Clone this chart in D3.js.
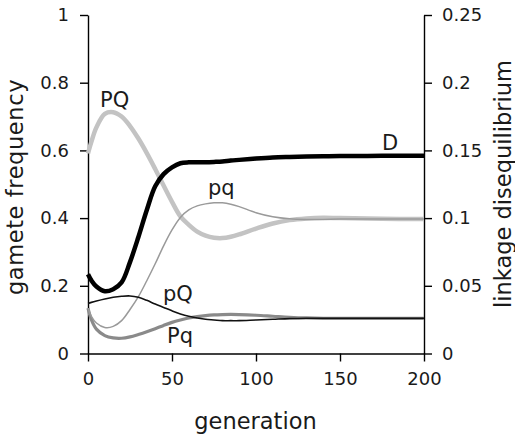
<!DOCTYPE html>
<html>
<head>
<meta charset="utf-8">
<script src="https://cdn.jsdelivr.net/npm/d3@7"></script>
<style>
  html, body { margin: 0; padding: 0; background: #fff; }
  svg { display: block; font-family: "DejaVu Sans", sans-serif; }
</style>
</head>
<body>
<svg id="chart" width="515" height="441"></svg>
<script>
// ---- data ----
const generations = [0,2,5,10,15,20,25,30,35,40,45,50,55,60,65,70,75,80,85,90,100,110,120,130,140,150,175,200];
const freqPQ = [0.591,0.625,0.668,0.708,0.713,0.700,0.672,0.635,0.592,0.545,0.496,0.448,0.405,0.380,0.360,0.348,0.342,0.341,0.345,0.352,0.369,0.384,0.394,0.399,0.401,0.400,0.398,0.397];
const freqpq = [0.134,0.110,0.090,0.077,0.080,0.097,0.130,0.168,0.215,0.265,0.318,0.365,0.402,0.424,0.436,0.442,0.445,0.445,0.441,0.434,0.416,0.404,0.398,0.396,0.396,0.397,0.397,0.397];
const freqpQ = [0.148,0.151,0.155,0.161,0.166,0.169,0.170,0.166,0.157,0.146,0.136,0.126,0.117,0.110,0.105,0.101,0.099,0.097,0.097,0.097,0.099,0.101,0.103,0.104,0.104,0.104,0.104,0.104];
const freqPq = [0.134,0.100,0.072,0.053,0.046,0.045,0.049,0.056,0.064,0.073,0.083,0.092,0.099,0.105,0.109,0.112,0.114,0.115,0.1155,0.115,0.113,0.110,0.107,0.105,0.104,0.104,0.104,0.104];
const linkageD = [0.0585,0.054,0.0495,0.046,0.0475,0.0525,0.0675,0.086,0.106,0.1235,0.1325,0.1375,0.1405,0.1412,0.1413,0.1413,0.1415,0.1418,0.1425,0.143,0.144,0.1448,0.1452,0.1455,0.1457,0.1458,0.146,0.146];

const xTicks = [0,50,100,150,200];
const leftTicks = [0,0.2,0.4,0.6,0.8,1];
const rightTicks = [0,0.05,0.1,0.15,0.2,0.25];

const seriesNames = ["PQ","Pq","pq","pQ","D"];

// ---- layout ----
const svg = d3.select("#chart");
const x = d3.scaleLinear().domain([0,200]).range([88,424]);
const yL = d3.scaleLinear().domain([0,1]).range([353.5,15]);
const yR = d3.scaleLinear().domain([0,0.25]).range([353.5,15]);

const fmt = d3.format("~g");

function styleAxis(g) {
  g.selectAll("path.domain").attr("stroke","#000").attr("stroke-width",1.4);
  g.selectAll(".tick line").attr("stroke","#000").attr("stroke-width",1.4);
  g.selectAll(".tick text").attr("fill","#1a1a1a").attr("font-size",18).attr("font-family","DejaVu Sans, sans-serif");
}

svg.append("g").attr("transform","translate(0,353.5)")
  .call(d3.axisBottom(x).tickValues(xTicks).tickFormat(fmt).tickSize(8).tickSizeOuter(0).tickPadding(11))
  .call(styleAxis);
svg.append("g").attr("transform","translate(88,0)")
  .call(d3.axisLeft(yL).tickValues(leftTicks).tickFormat(fmt).tickSize(8).tickSizeOuter(0).tickPadding(11))
  .call(styleAxis);
svg.append("g").attr("transform","translate(424,0)")
  .call(d3.axisRight(yR).tickValues(rightTicks).tickFormat(fmt).tickSize(8).tickSizeOuter(0).tickPadding(10))
  .call(styleAxis);

// ---- lines ----
const styles = {
  PQ: {data: freqPQ, scale: yL, color: "#c3c3c3", width: 4.5},
  Pq: {data: freqPq, scale: yL, color: "#8a8a8a", width: 3.2},
  pq: {data: freqpq, scale: yL, color: "#9a9a9a", width: 1.5},
  pQ: {data: freqpQ, scale: yL, color: "#111", width: 1.6},
  D:  {data: linkageD, scale: yR, color: "#000", width: 4.5}
};

seriesNames.forEach(name => {
  const s = styles[name];
  const line = d3.line()
    .x((d,i) => x(generations[i]))
    .y(d => s.scale(d))
    .curve(d3.curveCatmullRom.alpha(0.5));
  svg.append("path")
    .datum(s.data)
    .attr("fill","none")
    .attr("stroke", s.color)
    .attr("stroke-width", s.width)
    .attr("stroke-linejoin","round")
    .attr("stroke-linecap","butt")
    .attr("d", line);
});

// ---- series labels ----
const labels = [
  {t:"PQ", x:100, y:107},
  {t:"D",  x:382, y:150},
  {t:"pq", x:208, y:195},
  {t:"pQ", x:163, y:301},
  {t:"Pq", x:167, y:343}
];
svg.selectAll("text.lbl").data(labels).enter().append("text")
  .attr("class","lbl")
  .attr("x", d => d.x).attr("y", d => d.y)
  .attr("font-size", 21).attr("fill","#1a1a1a")
  .text(d => d.t);

// ---- axis titles ----
svg.append("text").attr("x",255.5).attr("y",428.5).attr("text-anchor","middle")
  .attr("font-size",22.5).attr("fill","#1a1a1a").text("generation");
svg.append("text").attr("transform","translate(22.5,187) rotate(-90)").attr("text-anchor","middle")
  .attr("font-size",22.5).attr("fill","#1a1a1a").attr("letter-spacing",0.6).text("gamete frequency");
svg.append("text").attr("transform","translate(511,184) rotate(-90)").attr("text-anchor","middle")
  .attr("font-size",22.5).attr("fill","#1a1a1a").text("linkage disequilibrium");
</script>
</body>
</html>
